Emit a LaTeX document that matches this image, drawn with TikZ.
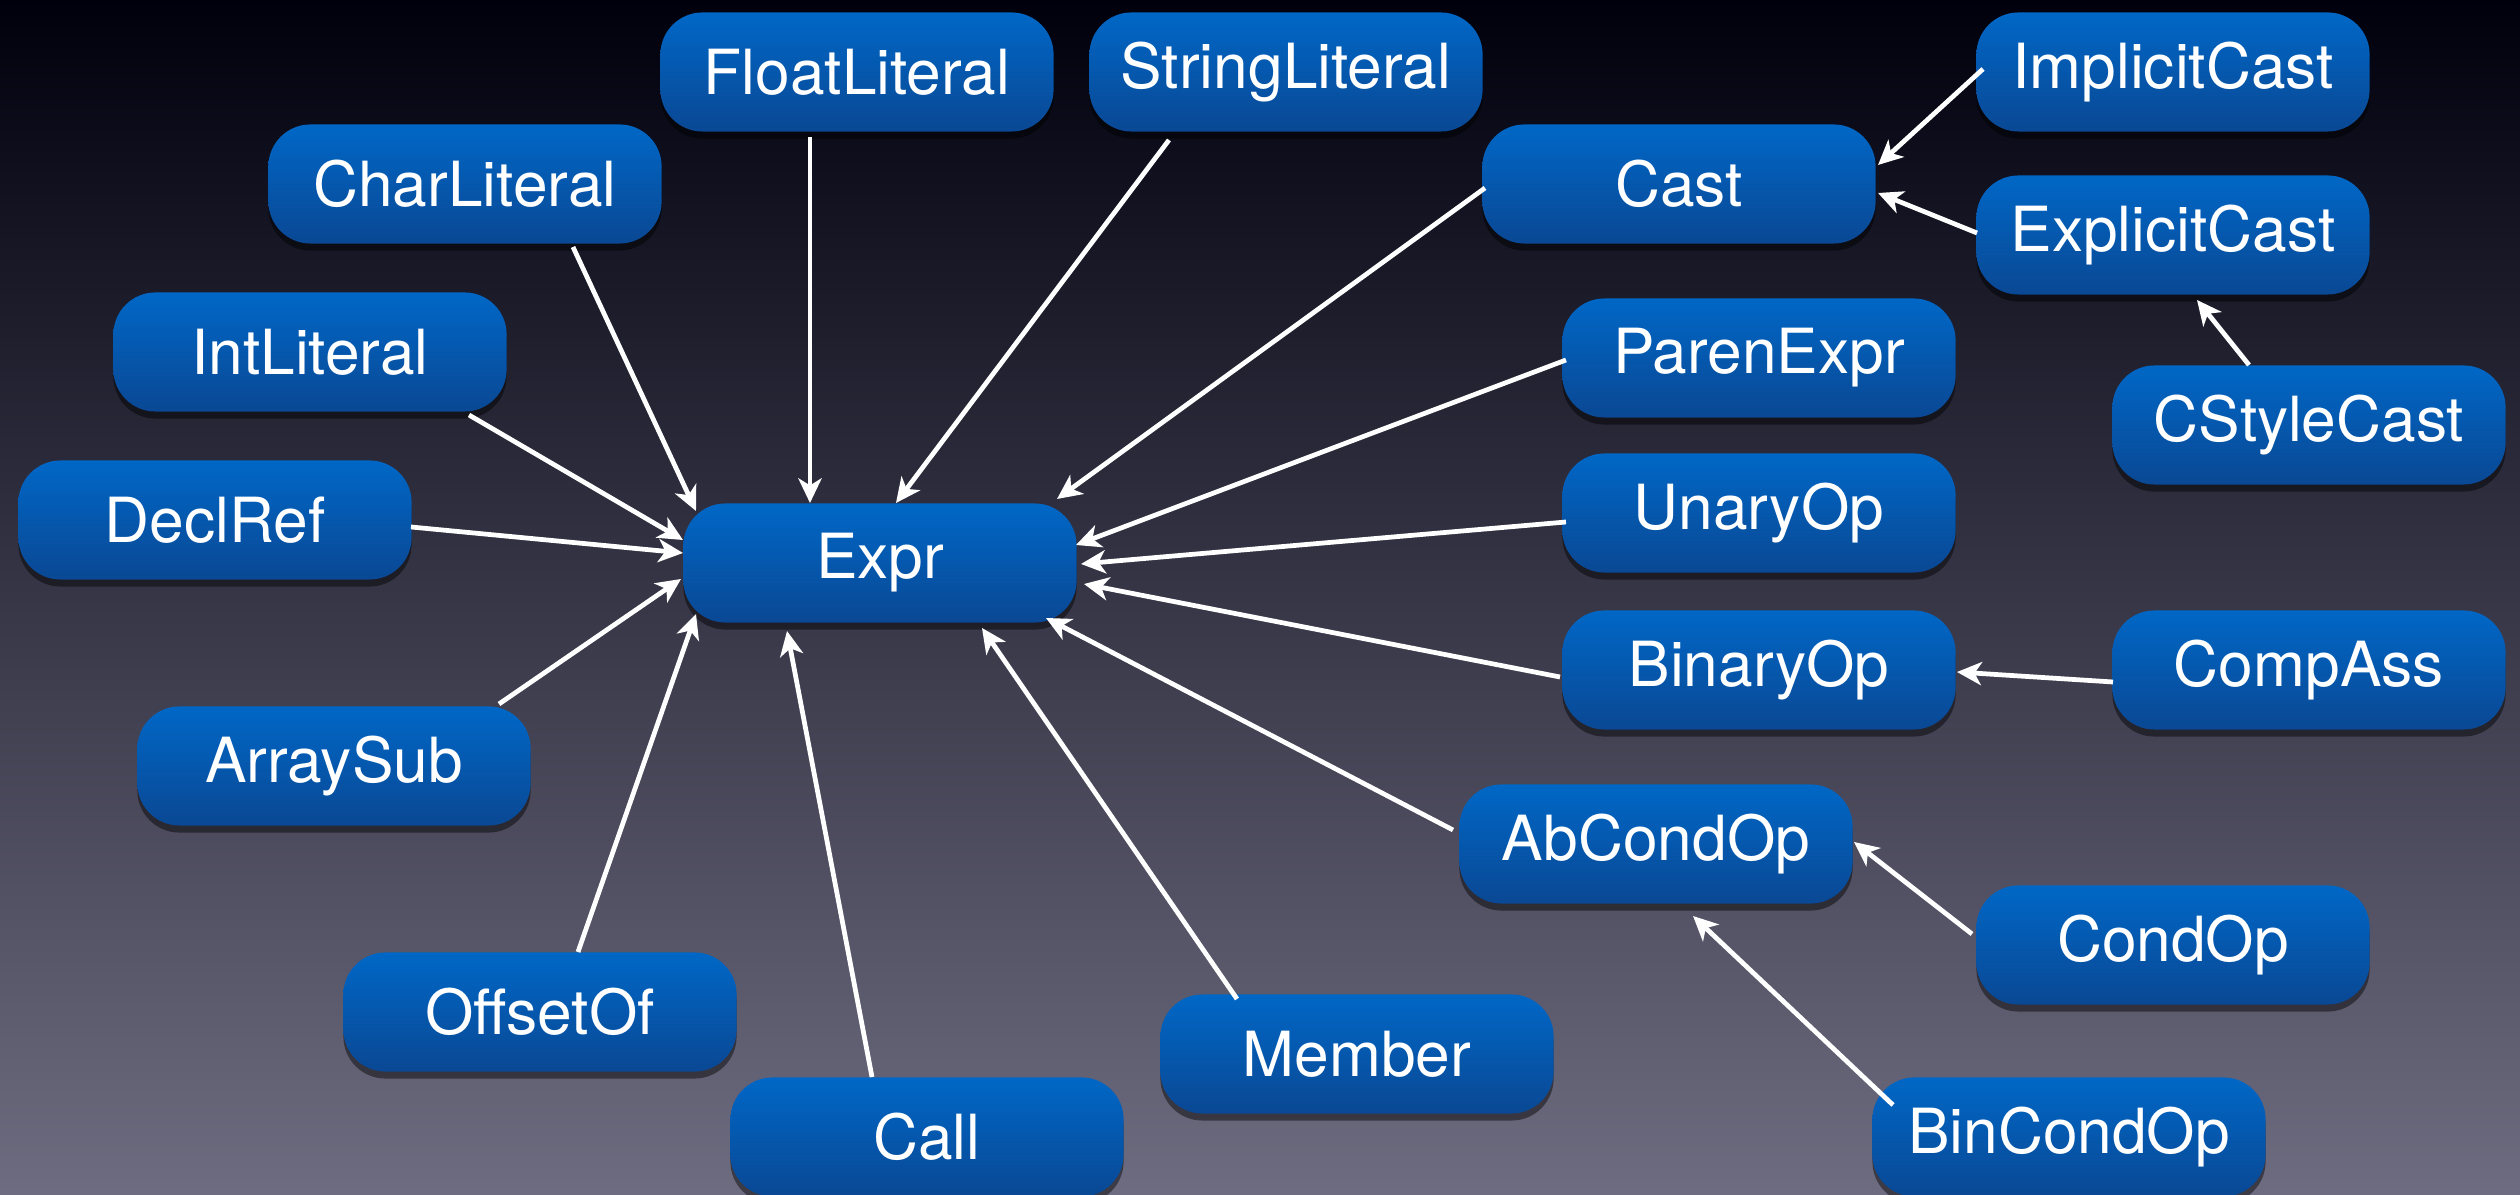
\documentclass[tikz,border=0pt]{standalone}
\usepackage{fontspec}
\setmainfont{TeX Gyre Heros}
\usetikzlibrary{arrows.meta,shadows}
\definecolor{bgtop}{HTML}{00000D}
\definecolor{bgmid}{HTML}{383856}
\definecolor{bgbot}{HTML}{6E6C80}
\definecolor{boxtop}{HTML}{0067C6}
\definecolor{boxbot}{HTML}{0A4894}
\tikzset{
  cls/.style={rectangle, rounded corners=0.42cm, minimum width=3.93cm, minimum height=1.19cm,
    top color=boxtop, bottom color=boxbot, draw=none, text=white,
    font=\fontsize{17.7}{20}\selectfont, inner sep=0pt,
    drop shadow={shadow xshift=0pt, shadow yshift=-2pt, opacity=0.45, fill=black}},
  arr/.style={draw=white, line width=1.35pt, -{Stealth[length=7pt,width=6.6pt,inset=2pt]}}
}
\begin{document}
\begin{tikzpicture}[x=0.01cm,y=-0.01cm]
\shade[top color=bgtop, middle color=bgmid, bottom color=bgbot] (0,0) rectangle (2520,1195);
\useasboundingbox (0,0) rectangle (2520,1195);

\node[cls] (FloatLiteral) at (857,72) {FloatLiteral};
\node[cls] (StringLiteral) at (1286,72) {StringLiteral};
\node[cls] (CharLiteral) at (465,184) {CharLiteral};
\node[cls] (Cast) at (1679,184) {Cast};
\node[cls] (ImplicitCast) at (2173,72) {ImplicitCast};
\node[cls] (ExplicitCast) at (2173,235) {ExplicitCast};
\node[cls] (CStyleCast) at (2309,425) {CStyleCast};
\node[cls] (IntLiteral) at (310,352) {IntLiteral};
\node[cls] (ParenExpr) at (1759,358) {ParenExpr};
\node[cls] (DeclRef) at (215,520) {DeclRef};
\node[cls] (Expr) at (880,563) {Expr};
\node[cls] (UnaryOp) at (1759,513) {UnaryOp};
\node[cls] (BinaryOp) at (1759,670) {BinaryOp};
\node[cls] (CompAss) at (2309,670) {CompAss};
\node[cls] (ArraySub) at (334,766) {ArraySub};
\node[cls] (AbCondOp) at (1656,844) {AbCondOp};
\node[cls] (CondOp) at (2173,945) {CondOp};
\node[cls] (OffsetOf) at (540,1012) {OffsetOf};
\node[cls] (Member) at (1357,1054) {Member};
\node[cls] (Call) at (927,1137) {Call};
\node[cls] (BinCondOp) at (2069,1137) {BinCondOp};

\draw[arr] ([shift={(-47,65)}]FloatLiteral.center) -- ([shift={(-70,-60)}]Expr.center);
\draw[arr] ([shift={(-117,68)}]StringLiteral.center) -- ([shift={(16,-60)}]Expr.center);
\draw[arr] ([shift={(108,63)}]CharLiteral.center) -- ([shift={(-184,-52)}]Expr.center);
\draw[arr] ([shift={(159,63)}]IntLiteral.center) -- ([shift={(-197,-23)}]Expr.center);
\draw[arr] ([shift={(196,7)}]DeclRef.center) -- ([shift={(-197,-10)}]Expr.center);
\draw[arr] ([shift={(165,-62)}]ArraySub.center) -- ([shift={(-199,16)}]Expr.center);
\draw[arr] ([shift={(38,-60)}]OffsetOf.center) -- ([shift={(-184,51)}]Expr.center);
\draw[arr] ([shift={(-55,-60)}]Call.center) -- ([shift={(-93,68)}]Expr.center);
\draw[arr] ([shift={(-120,-55)}]Member.center) -- ([shift={(102,65)}]Expr.center);
\draw[arr] ([shift={(-203,-14)}]AbCondOp.center) -- ([shift={(166,55)}]Expr.center);
\draw[arr] ([shift={(-199,7)}]BinaryOp.center) -- ([shift={(204,21)}]Expr.center);
\draw[arr] ([shift={(-193,9)}]UnaryOp.center) -- ([shift={(201,1)}]Expr.center);
\draw[arr] ([shift={(-193,2)}]ParenExpr.center) -- ([shift={(196,-18)}]Expr.center);
\draw[arr] ([shift={(-194,4)}]Cast.center) -- ([shift={(177,-64)}]Expr.center);
\draw[arr] ([shift={(-190,-3)}]ImplicitCast.center) -- ([shift={(199,-19)}]Cast.center);
\draw[arr] ([shift={(-196,-2)}]ExplicitCast.center) -- ([shift={(199,9)}]Cast.center);
\draw[arr] ([shift={(-60,-60)}]CStyleCast.center) -- ([shift={(24,65)}]ExplicitCast.center);
\draw[arr] ([shift={(-196,12)}]CompAss.center) -- ([shift={(198,2)}]BinaryOp.center);
\draw[arr] ([shift={(-201,-11)}]CondOp.center) -- ([shift={(198,-2)}]AbCondOp.center);
\draw[arr] ([shift={(-176,-32)}]BinCondOp.center) -- ([shift={(37,72)}]AbCondOp.center);
\end{tikzpicture}
\end{document}
